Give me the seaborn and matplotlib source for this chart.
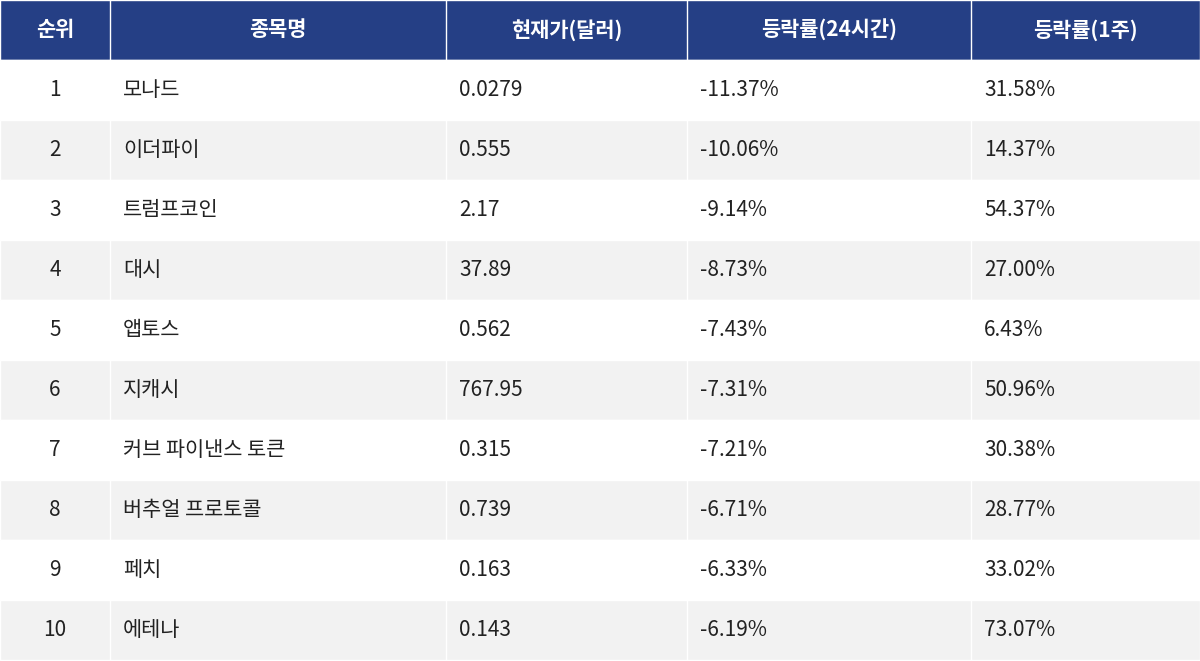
import matplotlib
matplotlib.use('Agg')
import matplotlib.pyplot as plt
import seaborn as sns

sns.set_theme(style='white')
plt.rcParams['font.family'] = ['Noto Sans CJK KR', 'DejaVu Sans']

headers = ['순위', '종목명', '현재가(달러)', '등락률(24시간)', '등락률(1주)']
ranks = ['1', '2', '3', '4', '5', '6', '7', '8', '9', '10']
names = ['모나드', '이더파이', '트럼프코인', '대시', '앱토스', '지캐시',
         '커브 파이낸스 토큰', '버추얼 프로토콜', '페치', '에테나']
prices = ['0.0279', '0.555', '2.17', '37.89', '0.562', '767.95',
          '0.315', '0.739', '0.163', '0.143']
chg_24h = ['-11.37%', '-10.06%', '-9.14%', '-8.73%', '-7.43%', '-7.31%',
           '-7.21%', '-6.71%', '-6.33%', '-6.19%']
chg_1w = ['31.58%', '14.37%', '54.37%', '27.00%', '6.43%', '50.96%',
          '30.38%', '28.77%', '33.02%', '73.07%']

col_edges = [0, 110, 446, 687, 971, 1200]
row_h = 60
header_color = '#253f85'
text_color = '#222222'

fig = plt.figure(figsize=(12, 6.61), dpi=100)
ax = fig.add_axes([0, 0, 1, 1])
ax.set_xlim(0, 1200)
ax.set_ylim(661, 0)
ax.axis('off')

# header band
ax.barh(row_h / 2, 1200, height=row_h, left=0, color=header_color)
# body rows
for i in range(len(ranks)):
    y = row_h * (i + 1.5)
    ax.barh(y, 1200, height=row_h, left=0,
            color='#ffffff' if i % 2 == 0 else '#f2f2f2')

# column separators
for x in col_edges[1:-1]:
    ax.plot([x, x], [0, 661], color='white', lw=1)

for j, h in enumerate(headers):
    cx = (col_edges[j] + col_edges[j + 1]) / 2
    ax.text(cx, row_h / 2, h, ha='center', va='center', color='white',
            fontsize=15, fontweight='bold')

cols = [names, prices, chg_24h, chg_1w]
for i in range(len(ranks)):
    y = row_h * (i + 1.5)
    ax.text(55, y, ranks[i], ha='center', va='center', color=text_color, fontsize=15)
    for j, col in enumerate(cols):
        ax.text(col_edges[j + 1] + 13, y, col[i], ha='left', va='center',
                color=text_color, fontsize=15)

fig.savefig('out.png', dpi=100)
